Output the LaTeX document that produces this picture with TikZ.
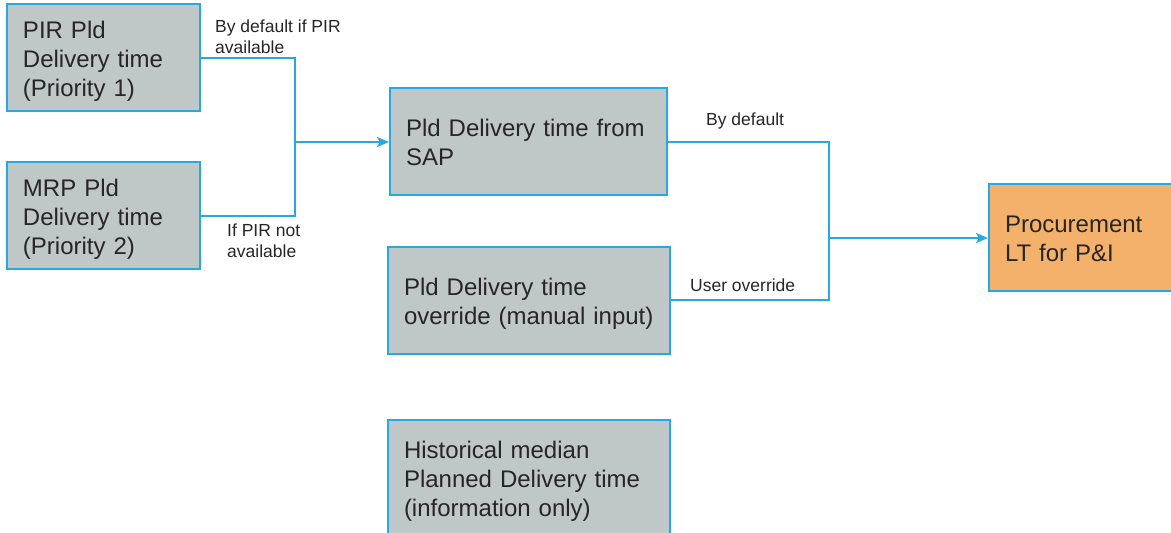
\documentclass[tikz,border=0pt]{standalone}
\usepackage{fontspec}
\setmainfont{Liberation Sans}
\usetikzlibrary{arrows.meta}
\definecolor{boxgray}{RGB}{191,199,199}
\definecolor{boxorange}{RGB}{244,177,107}
\definecolor{lineblue}{RGB}{38,168,226}
\definecolor{txt}{RGB}{38,38,38}
\newcommand\tstrutx{\rule{0pt}{26pt}}
\newcommand\bstrutx{\rule[-7pt]{0pt}{7pt}}
\tikzset{
  box/.style={draw=lineblue, line width=2pt, fill=boxgray, inner xsep=16pt, inner ysep=0pt,
    align=left, text=txt, font=\fontsize{24}{29}\selectfont, anchor=center},
  conn/.style={draw=lineblue, line width=2pt},
  arr/.style={conn, -{Stealth[length=12pt,width=10pt,inset=3pt]}},
  lbl/.style={text=txt, font=\fontsize{17.5}{21}\selectfont, align=left, inner sep=0pt, anchor=base west}
}
\begin{document}
\begin{tikzpicture}[x=1pt,y=-1pt]
\useasboundingbox (0,0) rectangle (1171,533);
\node[box, text width=161pt, minimum height=107pt] (pir) at (103.5,57.5) {\tstrutx PIR Pld\\Delivery time\\(Priority 1)\bstrutx};
\node[box, text width=161pt, minimum height=107pt] (mrp) at (103.5,215.5) {\tstrutx MRP Pld\\Delivery time\\(Priority 2)\bstrutx};
\node[box, text width=245pt, minimum height=107pt] (sap) at (528.5,141.5) {\tstrutx Pld Delivery time from\\SAP\bstrutx};
\node[box, text width=250pt, minimum height=107pt] (ovr) at (529,300.5) {\tstrutx Pld Delivery time\\override (manual input)\bstrutx};
\node[box, text width=250pt, minimum height=116pt] (hist) at (529,478) {\tstrutx Historical median\\Planned Delivery time\\(information only)\bstrutx};
\node[box, fill=boxorange, text width=154pt, minimum height=107pt] (proc) at (1082,237.5) {\tstrutx Procurement\\LT for P\&I\bstrutx};
\coordinate (j1) at (295,142);
\coordinate (j2) at (829,238);
\draw[conn] (pir.east) -| (j1);
\draw[conn] (mrp.east) -| (j1);
\draw[arr] (j1) -- (sap.west |- j1);
\draw[conn] (sap.east |- 0,142) -| (j2);
\draw[conn] (ovr.east |- 0,300) -| (j2);
\draw[arr] (j2) -- (proc.west |- j2);
\node[lbl] (l1) at (215,53) {By default if PIR\\available};
\node[lbl] (l2) at (227,257) {If PIR not\\available};
\node[lbl] (l3) at (706,125) {By default};
\node[lbl] (l4) at (690,291) {User override};
\end{tikzpicture}
\end{document}
